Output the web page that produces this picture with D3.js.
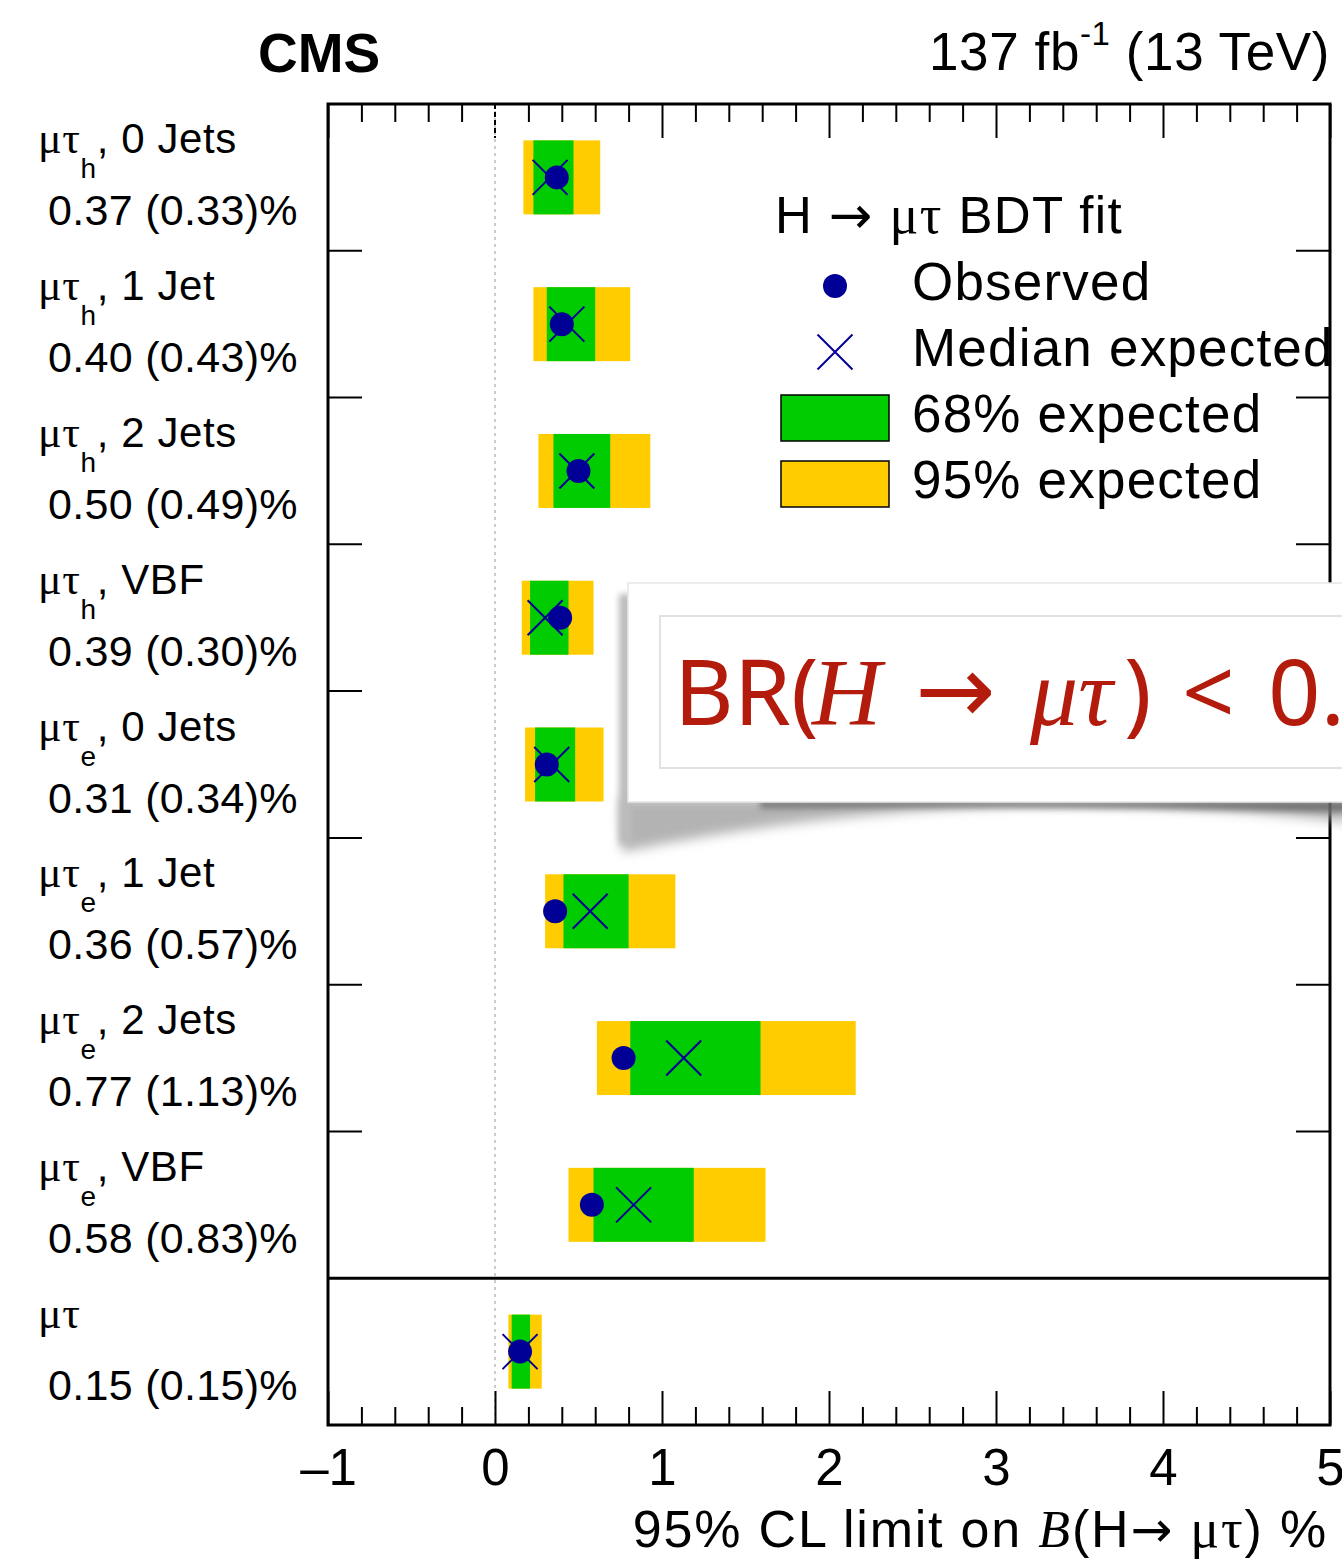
<!DOCTYPE html>
<html>
<head>
<meta charset="utf-8">
<script src="https://cdn.jsdelivr.net/npm/d3@7"></script>
<style>
  body { margin: 0; background: #fff; overflow: hidden; }
  svg { display: block; font-family: "Liberation Sans", Arial, sans-serif; }
</style>
</head>
<body>
<div class="viz"></div>
<script>
// Channels, top to bottom
const tauDecay = ["h", "h", "h", "h", "e", "e", "e", "e", ""];
const jetCategory = ["0 Jets", "1 Jet", "2 Jets", "VBF", "0 Jets", "1 Jet", "2 Jets", "VBF", ""];

// Limits in %
const observed = [0.37, 0.40, 0.50, 0.39, 0.31, 0.36, 0.77, 0.58, 0.15];
const expected = [0.33, 0.43, 0.49, 0.30, 0.34, 0.57, 1.13, 0.83, 0.15];
const lo68 = [0.23, 0.31, 0.35, 0.21, 0.24, 0.41, 0.81, 0.59, 0.10];
const hi68 = [0.47, 0.60, 0.69, 0.44, 0.48, 0.80, 1.59, 1.19, 0.21];
const lo95 = [0.17, 0.23, 0.26, 0.16, 0.18, 0.30, 0.61, 0.44, 0.08];
const hi95 = [0.63, 0.81, 0.93, 0.59, 0.65, 1.08, 2.16, 1.62, 0.28];

const xTicks = [-1, 0, 1, 2, 3, 4, 5];

const colors = {
  green: "#00cc00",
  yellow: "#ffcc00",
  marker: "#000096",
};

const data = observed.map((d, i) => ({
  id: i,
  tau: tauDecay[i],
  cat: jetCategory[i],
  obs: d,
  exp: expected[i],
  lo68: lo68[i],
  hi68: hi68[i],
  lo95: lo95[i],
  hi95: hi95[i],
}));

const totalWidth = 1342;
const totalHeight = 1559;
const margin = { top: 104, right: 12, bottom: 134, left: 328 };
const width = totalWidth - margin.left - margin.right;
const height = totalHeight - margin.top - margin.bottom;

const serif = "Liberation Serif, serif";
const arrowFont = "DejaVu Sans, sans-serif";

const svg = d3
  .select(".viz")
  .append("svg")
  .attr("width", totalWidth)
  .attr("height", totalHeight);

svg.append("rect").attr("width", totalWidth).attr("height", totalHeight).attr("fill", "#fff");

const g = svg
  .append("g")
  .attr("transform", `translate(${margin.left},${margin.top})`);

// Scales
const xScale = d3.scaleLinear().domain([-1, 5]).range([0, width]);
const yScale = d3.scaleBand().domain(data.map((d) => d.id)).range([0, height]);
const bandH = yScale.bandwidth() * 0.504;

// Dashed line at zero
g.append("line")
  .attr("x1", xScale(0))
  .attr("x2", xScale(0))
  .attr("y1", 0)
  .attr("y2", height)
  .attr("stroke", "#bbb")
  .attr("stroke-width", 1.5)
  .attr("stroke-dasharray", "3,4");

// 95% bands
g.selectAll(".band95")
  .data(data)
  .enter()
  .append("rect")
  .attr("x", (d) => xScale(d.lo95))
  .attr("width", (d) => xScale(d.hi95) - xScale(d.lo95))
  .attr("y", (d) => yScale(d.id) + (yScale.bandwidth() - bandH) / 2)
  .attr("height", bandH)
  .attr("fill", colors.yellow);

// 68% bands
g.selectAll(".band68")
  .data(data)
  .enter()
  .append("rect")
  .attr("x", (d) => xScale(d.lo68))
  .attr("width", (d) => xScale(d.hi68) - xScale(d.lo68))
  .attr("y", (d) => yScale(d.id) + (yScale.bandwidth() - bandH) / 2)
  .attr("height", bandH)
  .attr("fill", colors.green);

// Median expected crosses
const cross = 17.5;
function drawCross(sel, cx, cy) {
  sel.append("path")
    .attr("d", `M${cx - cross},${cy - cross}L${cx + cross},${cy + cross}M${cx - cross},${cy + cross}L${cx + cross},${cy - cross}`)
    .attr("stroke", colors.marker)
    .attr("stroke-width", 2)
    .attr("fill", "none");
}
data.forEach((d) => {
  drawCross(g, xScale(d.exp), yScale(d.id) + yScale.bandwidth() / 2);
});

// Observed points
g.selectAll(".obs")
  .data(data)
  .enter()
  .append("circle")
  .attr("cx", (d) => xScale(d.obs))
  .attr("cy", (d) => yScale(d.id) + yScale.bandwidth() / 2)
  .attr("r", 12)
  .attr("fill", colors.marker);

// X axis ticks (inward), bottom and top
const minorTicks = d3.range(-1, 5.001, 0.2).filter((v) => Math.abs(v - Math.round(v)) > 1e-6);

function styleTicks(axisG) {
  axisG.select(".domain").remove();
  axisG.selectAll("line").attr("stroke", "#000").attr("stroke-width", 2);
}

g.append("g")
  .attr("transform", `translate(0,${height})`)
  .call(d3.axisBottom(xScale).tickValues(minorTicks).tickSize(-18).tickFormat(""))
  .call(styleTicks);

const bottomAxis = g.append("g")
  .attr("transform", `translate(0,${height})`)
  .call(
    d3.axisBottom(xScale)
      .tickValues(xTicks)
      .tickSize(-34)
      .tickPadding(24)
      .tickFormat((d) => (d < 0 ? "\u2013" + Math.abs(d) : d))
  )
  .call(styleTicks);
bottomAxis.selectAll("text")
  .attr("fill", "#000")
  .style("font-size", "51px")
  .style("font-family", "Liberation Sans, Arial, sans-serif");

g.append("g")
  .call(d3.axisTop(xScale).tickValues(minorTicks).tickSize(-18).tickFormat(""))
  .call(styleTicks);
g.append("g")
  .call(d3.axisTop(xScale).tickValues(xTicks.filter((v) => v !== 0)).tickSize(-34).tickFormat(""))
  .call(styleTicks);
g.append("line")
  .attr("x1", xScale(0)).attr("x2", xScale(0))
  .attr("y1", 0).attr("y2", 34)
  .attr("stroke", "#000").attr("stroke-width", 2)
  .attr("stroke-dasharray", "5,3");

// Row separator ticks
const boundaries = data.slice(1, -1).map((d) => yScale(d.id));
boundaries.forEach((y) => {
  g.append("line").attr("x1", 0).attr("x2", 34).attr("y1", y).attr("y2", y)
    .attr("stroke", "#000").attr("stroke-width", 2);
  g.append("line").attr("x1", width - 34).attr("x2", width).attr("y1", y).attr("y2", y)
    .attr("stroke", "#000").attr("stroke-width", 2);
});

// Line separating the combined limit
const comboY = yScale(data[data.length - 1].id);
g.append("line")
  .attr("x1", 0).attr("x2", width)
  .attr("y1", comboY).attr("y2", comboY)
  .attr("stroke", "#000").attr("stroke-width", 3);

// Frame
g.append("rect")
  .attr("width", width)
  .attr("height", height)
  .attr("fill", "none")
  .attr("stroke", "#000")
  .attr("stroke-width", 3);

// Channel labels on the left
data.forEach((d) => {
  const yc = margin.top + yScale(d.id) + yScale.bandwidth() / 2;
  const t = svg.append("text")
    .attr("x", 38)
    .attr("y", yc - 24)
    .style("font-size", "42px")
    .style("letter-spacing", "0.6px")
    .attr("fill", "#000");
  t.append("tspan").style("font-family", serif).style("font-size", "44px").text("\u03bc\u03c4");
  if (d.tau) {
    t.append("tspan").attr("dy", 25).style("font-size", "28px").text(d.tau);
    t.append("tspan").attr("dy", -25).text(", " + d.cat);
  }
  svg.append("text")
    .attr("x", 48)
    .attr("y", yc + 48)
    .style("font-size", "43px")
    .style("letter-spacing", "0.3px")
    .attr("fill", "#000")
    .text(`${d.obs.toFixed(2)} (${d.exp.toFixed(2)})%`);
});

// Header
svg.append("text")
  .attr("x", 258)
  .attr("y", 72)
  .style("font-size", "55px")
  .style("font-weight", "bold")
  .text("CMS");

const lumi = svg.append("text")
  .attr("x", 1330)
  .attr("y", 70)
  .attr("text-anchor", "end")
  .style("font-size", "53px")
  .style("letter-spacing", "0.6px");
lumi.append("tspan").text("137 fb");
lumi.append("tspan").attr("dy", -25).style("font-size", "33px").text("-1");
lumi.append("tspan").attr("dy", 25).text(" (13 TeV)");

// X axis title
const xTitle = svg.append("text")
  .attr("x", 1328)
  .attr("y", 1547)
  .attr("text-anchor", "end")
  .style("font-size", "52px")
  .style("letter-spacing", "1.8px");
xTitle.append("tspan").text("95% CL limit on ");
xTitle.append("tspan").style("font-family", serif).style("font-style", "italic").text("B");
xTitle.append("tspan").text("(H");
xTitle.append("tspan").style("font-family", arrowFont).style("font-size", "50px").text("\u2192");
xTitle.append("tspan").text(" ");
xTitle.append("tspan").style("font-family", serif).style("font-size", "54px").text("\u03bc\u03c4");
xTitle.append("tspan").text(") %");

// Legend
const legend = svg.append("g");
const legendTitle = legend.append("text")
  .attr("x", 775)
  .attr("y", 233)
  .style("font-size", "51px")
  .style("letter-spacing", "1.4px");
legendTitle.append("tspan").text("H ");
legendTitle.append("tspan").style("font-family", arrowFont).style("font-size", "52px").text("\u2192");
legendTitle.append("tspan").text("  ");
legendTitle.append("tspan").style("font-family", serif).style("font-size", "54px").text("\u03bc\u03c4");
legendTitle.append("tspan").text(" BDT fit");

const legendItems = [
  { label: "Observed", type: "dot", y: 286 },
  { label: "Median expected", type: "cross", y: 352 },
  { label: "68% expected", type: "box68", y: 418 },
  { label: "95% expected", type: "box95", y: 484 },
];
legendItems.forEach((it) => {
  if (it.type === "dot") {
    legend.append("circle").attr("cx", 835).attr("cy", it.y).attr("r", 12).attr("fill", colors.marker);
  } else if (it.type === "cross") {
    drawCross(legend, 835, it.y);
  } else {
    legend.append("rect")
      .attr("x", 781).attr("y", it.y - 23)
      .attr("width", 108).attr("height", 46)
      .attr("fill", it.type === "box68" ? colors.green : colors.yellow)
      .attr("stroke", "#000").attr("stroke-width", 1.5);
  }
  legend.append("text")
    .attr("x", 912)
    .attr("y", it.y + 14)
    .style("font-size", "53px")
    .style("letter-spacing", "1.2px")
    .text(it.label);
});

// Pasted annotation box with curled shadow
const defs = svg.append("defs");
defs.append("filter").attr("id", "blur").attr("x", "-20%").attr("y", "-50%").attr("width", "140%").attr("height", "200%")
  .append("feGaussianBlur").attr("stdDeviation", 6);
defs.append("filter").attr("id", "blur2").attr("x", "-50%").attr("y", "-50%").attr("width", "200%").attr("height", "200%")
  .append("feGaussianBlur").attr("stdDeviation", 3);

const note = svg.append("g");
// light wedge at the left, thin band toward the right
note.append("path")
  .attr("d", "M620,798 L1350,798 L1350,822 Q1150,800 1000,806 Q800,815 622,852 Z")
  .attr("fill", "#9a9a9a")
  .attr("opacity", 0.75)
  .attr("filter", "url(#blur)");
// darker strip right under the box
note.append("path")
  .attr("d", "M760,801 L1350,801 L1350,812 Q1050,806 760,808 Z")
  .attr("fill", "#555")
  .attr("opacity", 0.7)
  .attr("filter", "url(#blur2)");
note.append("rect")
  .attr("x", 619).attr("y", 594).attr("width", 12).attr("height", 250)
  .attr("fill", "#bbb")
  .attr("filter", "url(#blur2)");
note.append("rect")
  .attr("x", 628).attr("y", 583).attr("width", 730).attr("height", 219)
  .attr("fill", "#fff")
  .attr("stroke", "#e6e6e6").attr("stroke-width", 1.5);
note.append("rect")
  .attr("x", 660).attr("y", 616).attr("width", 700).attr("height", 152)
  .attr("fill", "none")
  .attr("stroke", "#d9d9d9").attr("stroke-width", 1.5);

const noteText = note.append("text")
  .attr("y", 725)
  .attr("fill", "#b31b0c")
  .style("font-family", "Noto Sans, Open Sans, sans-serif")
  .style("font-size", "92px");
noteText.append("tspan").attr("x", 674).text("BR(");
noteText.append("tspan").attr("x", 812).style("font-family", serif).style("font-style", "italic").style("font-size", "96px").text("H");
noteText.append("tspan").attr("x", 915).attr("dy", -2).style("font-family", arrowFont).style("font-size", "96px").text("\u2192");
noteText.append("tspan").attr("x", 1030).attr("dy", 2).style("font-family", serif).style("font-style", "italic").style("font-size", "96px").text("\u03bc\u03c4");
noteText.append("tspan").attr("x", 1124).text(")");
noteText.append("tspan").attr("x", 1182).text("<");
noteText.append("tspan").attr("x", 1268).text("0.");
</script>
</body>
</html>
